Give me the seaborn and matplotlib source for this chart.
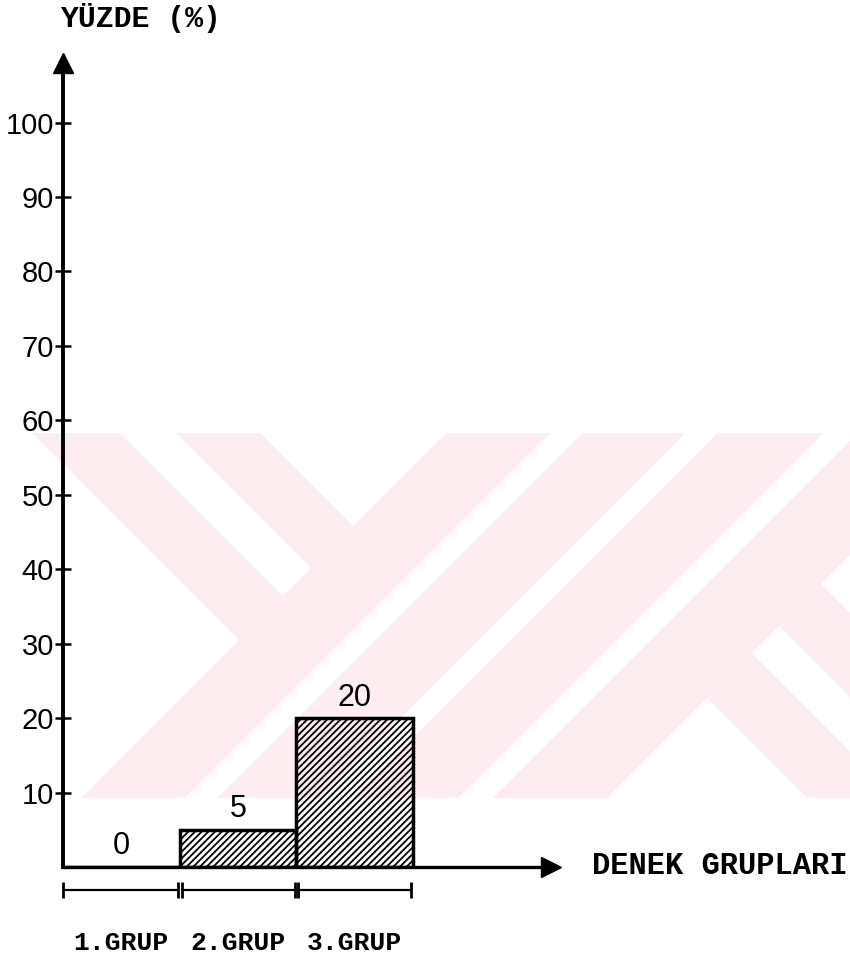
import numpy as np
import matplotlib
matplotlib.use("Agg")
import matplotlib.pyplot as plt
import seaborn as sns

# data
groups = ["1.GRUP", "2.GRUP", "3.GRUP"]
percent = [0, 5, 20]
y_ticks = [10, 20, 30, 40, 50, 60, 70, 80, 90, 100]
y_title = "YÜZDE (%)"
x_title = "DENEK GRUPLARI"

num_font = ["Liberation Sans", "DejaVu Sans"]
type_font = ["Liberation Mono", "DejaVu Sans Mono"]

sns.set_style("ticks")
plt.rcParams["font.family"] = num_font
plt.rcParams["hatch.linewidth"] = 1.3
plt.rcParams["text.color"] = "black"
plt.rcParams["xtick.color"] = "black"
plt.rcParams["ytick.color"] = "black"
plt.rcParams["axes.edgecolor"] = "black"

W, H = 850, 955
fig = plt.figure(figsize=(W / 100, H / 100), dpi=100)


def watermark():
    # pale pink stripe logo behind the chart (pixel coords of the page)
    X, Y = np.meshgrid(np.arange(W), np.arange(H))
    s = X + Y
    d = X - Y
    band = (Y >= 433) & (Y <= 797)
    arms = (s < 879) & (((d >= -400) & (d <= -313)) | ((d >= -256) & (d <= -173)))
    mid = (s >= 879) & (s < 1405)
    mid &= ~((s > 982) & (s < 1015))
    mid &= ~((s > 1117) & (s < 1150))
    mid &= ~((s > 1255) & (s < 1290))
    kpart = (s >= 1405) & (((d > 8) & (d < 99)) | ((d > 152) & (d < 238)))
    mask = band & (arms | mid | kpart)
    img = np.ones((H, W, 4))
    img[..., 3] = 0
    img[mask] = [253 / 255, 236 / 255, 240 / 255, 1]
    bg = fig.add_axes([0, 0, 1, 1], zorder=-1)
    bg.imshow(img, extent=(0, W, H, 0), interpolation="nearest")
    bg.axis("off")


watermark()

ax = fig.add_axes([63 / W, (H - 867) / H, (551 - 63) / W, (867 - 63) / H])
ax.patch.set_alpha(0)

sns.barplot(x=groups, y=percent, ax=ax, width=1.0, color="white",
            edgecolor="black", linewidth=2.5, hatch="/////")
for p in ax.patches:
    p.set_facecolor("none")

ax.bar_label(ax.containers[0], labels=[str(v) for v in percent], padding=4,
             fontsize=22, family=num_font)

ax.set_xlim(-0.5, 3.68)
ax.set_ylim(0, 108)
ax.set_yticks(y_ticks)
ax.set_yticklabels([str(t) for t in y_ticks], fontsize=21, family=num_font)
ax.tick_params(axis="y", direction="inout", length=11, width=1.8, pad=1)
ax.set_xticks(range(len(groups)))
ax.set_xticklabels(groups, fontsize=19, family=type_font, fontweight="bold")
ax.tick_params(axis="x", length=0, pad=46)
ax.set_xlabel("")
ax.set_ylabel("")

sns.despine(ax=ax)
ax.spines["left"].set_linewidth(2.8)
ax.spines["bottom"].set_linewidth(2.4)

ax.plot(0, 1, marker="^", ms=15, color="black", transform=ax.transAxes,
        clip_on=False)
ax.plot(1, 0, marker=">", ms=15, color="black", transform=ax.transAxes,
        clip_on=False)

# group extent marks under the axis
gap = 0.017
for i in range(len(groups)):
    ax.plot([i - 0.5 + (gap if i else 0), i + 0.5 - gap], [-3.1, -3.1],
            color="black", lw=1.6, marker="|", ms=11, mew=2, clip_on=False)

fig.text(60 / W, 1 - 18 / H, y_title, ha="left", va="center", fontsize=21.5,
         family=type_font, fontweight="bold")
fig.text(592 / W, 1 - 866 / H, x_title, ha="left", va="center", fontsize=22,
         family=type_font, fontweight="bold")

fig.savefig("out.png", dpi=100)
